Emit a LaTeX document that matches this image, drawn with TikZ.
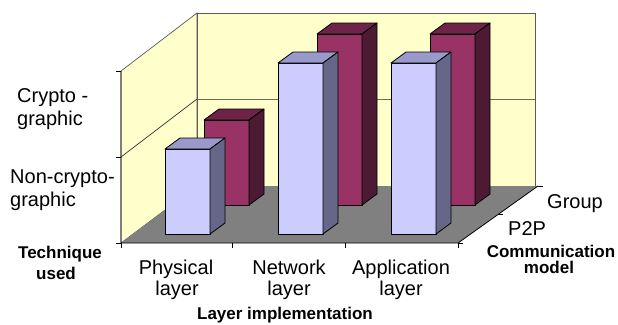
\documentclass[tikz,border=0pt]{standalone}
\usepackage{fontspec}
\setmainfont{Liberation Sans}
\definecolor{wallc}{HTML}{FFFFCC}
\definecolor{floorc}{HTML}{808080}
\definecolor{pface}{HTML}{CCCCFF}
\definecolor{ptop}{HTML}{9999CC}
\definecolor{pside}{HTML}{666688}
\definecolor{gface}{HTML}{993366}
\definecolor{gtop}{HTML}{6E2449}
\definecolor{gside}{HTML}{4D1A33}
\definecolor{gridc}{HTML}{707050}
\newcommand{\cuboid}[6]{%
  \filldraw[fill=#4,draw=black,line width=0.8pt,line join=round] (#1,#3) rectangle (#1+45,#2);
  \filldraw[fill=#5,draw=black,line width=0.8pt,line join=round] (#1,#2) -- (#1+15,#2-11) -- (#1+60,#2-11) -- (#1+45,#2) -- cycle;
  \filldraw[fill=#6,draw=black,line width=0.8pt,line join=round] (#1+45,#2) -- (#1+60,#2-11) -- (#1+60,#3-11) -- (#1+45,#3) -- cycle;
}
\tikzset{
  lab/.style={font=\fontsize{20}{24}\selectfont, inner sep=0pt},
  blab/.style={font=\fontsize{17}{20}\selectfont\bfseries, inner sep=0pt},
  axisline/.style={draw=black, line width=0.8pt},
  wallline/.style={draw=gray!70!black, line width=0.7pt},
}
\begin{document}
\begin{tikzpicture}[x=1pt,y=-1pt]
\useasboundingbox (0,0) rectangle (618,324);
% walls
\filldraw[fill=wallc,wallline] (121,71) -- (197,13) -- (197,186) -- (121,243) -- cycle;
\filldraw[fill=wallc,wallline] (197,13) -- (535,13) -- (535,186) -- (197,186) -- cycle;
% floor
\fill[floorc] (121,243) -- (197,186) -- (538,186) -- (458,243) -- cycle;
% gridlines
\draw[draw=black!80, line width=0.7pt] (121,157) -- (197,99);
\draw[draw=gridc, line width=0.7pt] (197,99) -- (535,99);
% axes
\draw[axisline] (121,71) -- (121,243) -- (458,243) -- (538,186);
\foreach \yy in {71,157,243} \draw[axisline] (116,\yy) -- (121,\yy);
\foreach \xx in {121,232,345,458} \draw[axisline] (\xx,243) -- (\xx,248);
\draw[axisline] (458,243) -- (463,243);
\draw[axisline] (498,214.5) -- (503,214.5);
\draw[axisline] (538,186) -- (543,186);
% back bars (Group)
\cuboid{204}{120}{205}{gface}{gtop}{gside}
\cuboid{317}{34}{205}{gface}{gtop}{gside}
\cuboid{430}{34}{205}{gface}{gtop}{gside}
% front bars (P2P)
\cuboid{165}{149}{234}{pface}{ptop}{pside}
\cuboid{278}{63}{234}{pface}{ptop}{pside}
\cuboid{391}{63}{234}{pface}{ptop}{pside}
% labels
\node[lab,anchor=base west] (c1) at (17,102) {Crypto -};
\node[lab,anchor=base west] (c2) at (17,125) {graphic};
\node[lab,anchor=base west] (n1) at (10,183) {Non-crypto-};
\node[lab,anchor=base west] (n2) at (10,206) {graphic};
\node[blab,anchor=base] (t1) at (60,258) {Technique};
\node[blab,anchor=base] (t2) at (56,279) {used};
\node[lab,anchor=base] (ph1) at (176,274) {Physical};
\node[lab,anchor=base] (ph2) at (177,295) {layer};
\node[lab,anchor=base] (nw1) at (289,274) {Network};
\node[lab,anchor=base] (nw2) at (289,295) {layer};
\node[lab,anchor=base] (ap1) at (401,274) {Application};
\node[lab,anchor=base] (ap2) at (401,295) {layer};
\node[blab,anchor=base] (li) at (285,319.5) {Layer implementation};
\node[lab,anchor=base west] (gr) at (547,208) {Group};
\node[lab,anchor=base west] (pp) at (508,235) {P2P};
\node[blab,anchor=base] (cm1) at (551,257) {Communication};
\node[blab,anchor=base] (cm2) at (549,273) {model};
\end{tikzpicture}
\end{document}
